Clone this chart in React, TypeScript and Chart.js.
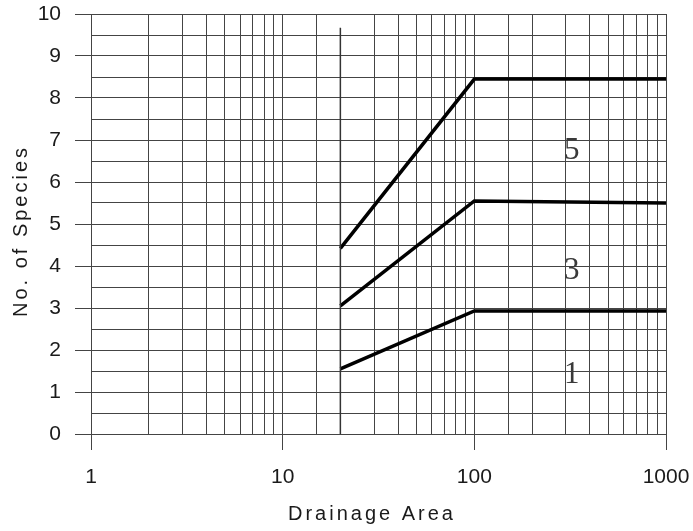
import { useEffect, useRef } from 'react';
import { Chart, registerables } from 'chart.js';

Chart.register(...registerables);

// ---- data ----
const areaPoints = [20, 100, 1000];
const species5 = [4.42, 8.45, 8.45];
const species3 = [3.05, 5.55, 5.5];
const species1 = [1.55, 2.93, 2.93];
const boundaryX = [20, 20];
const boundaryY = [0, 9.67];
const curveLabels = ['5', '3', '1'];
const curveLabelX = [322, 322, 322];
const curveLabelY = [6.75, 3.88, 1.42];
const xMajorTicks = [1, 10, 100, 1000];
const xTitle = 'Drainage Area';
const yTitle = 'No. of Species';

const GRID = '#444444';
const TEXT = '#1a1a1a';

const isMajorX = (v: number) => xMajorTicks.includes(v);
const isMajorY = (v: number) => Math.abs(v - Math.round(v)) < 1e-9;

const overlayPlugin = {
  id: 'overlayText',
  afterDraw(chart: any) {
    const ctx = chart.ctx as CanvasRenderingContext2D;
    const xs = chart.scales.x;
    const ys = chart.scales.y;
    ctx.save();
    // curve labels
    ctx.font = '31px "Liberation Serif"';
    ctx.fillStyle = '#3a3a3a';
    ctx.textAlign = 'center';
    ctx.textBaseline = 'middle';
    curveLabels.forEach((t, i) => {
      ctx.fillText(t, xs.getPixelForValue(curveLabelX[i]), ys.getPixelForValue(curveLabelY[i]));
    });
    // axis titles with letter spacing
    ctx.font = '20px "Liberation Sans"';
    (ctx as any).letterSpacing = '3px';
    ctx.fillStyle = TEXT;
    ctx.fillText(xTitle, 372, 514);
    ctx.translate(21, 231);
    ctx.rotate(-Math.PI / 2);
    ctx.fillText(yTitle, 0, 0);
    ctx.restore();
  },
};

export default function App() {
  const ref = useRef<HTMLCanvasElement>(null);
  useEffect(() => {
    if (!ref.current) return;
    const line = (vals: number[]) => areaPoints.map((x, i) => ({ x, y: vals[i] }));
    const chart = new Chart(ref.current, {
      type: 'line',
      data: {
        datasets: [
          {
            data: boundaryX.map((x, i) => ({ x, y: boundaryY[i] })),
            borderColor: '#333',
            borderWidth: 1.5,
            pointRadius: 0,
            tension: 0,
          },
          { data: line(species5), borderColor: '#000', borderWidth: 3.5, pointRadius: 0, tension: 0 },
          { data: line(species3), borderColor: '#000', borderWidth: 3.5, pointRadius: 0, tension: 0 },
          { data: line(species1), borderColor: '#000', borderWidth: 3.5, pointRadius: 0, tension: 0 },
        ],
      },
      options: {
        animation: false,
        responsive: false,
        devicePixelRatio: 1,
        layout: { padding: { top: 14, right: 27, left: 0, bottom: 0 } },
        plugins: { legend: { display: false }, tooltip: { enabled: false }, title: { display: false } },
        scales: {
          x: {
            type: 'logarithmic',
            min: 1,
            max: 1000,
            afterFit: (s: any) => {
              s.height = 97;
              s.paddingLeft = 0;
              s.paddingRight = 0;
            },
            border: { color: GRID, width: 1 },
            grid: {
              color: (c: any) => (c.tick && c.tick.value === 20 ? 'rgba(0,0,0,0)' : GRID),
              tickColor: (c: any) => (c.tick && isMajorX(c.tick.value) ? GRID : 'rgba(0,0,0,0)'),
              tickLength: 16,
              lineWidth: 1,
            },
            ticks: {
              autoSkip: false,
              maxRotation: 0,
              padding: 15,
              color: TEXT,
              font: { family: '"Liberation Sans"', size: 21 },
              callback: (v: any) => (isMajorX(Number(v)) ? String(v) : ''),
            },
          },
          y: {
            type: 'linear',
            min: 0,
            max: 10,
            afterFit: (s: any) => {
              s.width = 91;
              s.paddingTop = 0;
              s.paddingBottom = 0;
            },
            border: { color: GRID, width: 1 },
            grid: {
              color: GRID,
              tickColor: (c: any) => (c.tick && isMajorY(c.tick.value) ? GRID : 'rgba(0,0,0,0)'),
              tickLength: 16,
              lineWidth: 1,
            },
            ticks: {
              stepSize: 0.5,
              autoSkip: false,
              padding: 14,
              color: TEXT,
              font: { family: '"Liberation Sans"', size: 21 },
              callback: (v: any) => (isMajorY(Number(v)) ? String(Math.round(Number(v))) : ''),
            },
          },
        },
      },
      plugins: [overlayPlugin],
    });
    return () => chart.destroy();
  }, []);
  return (
    <div style={{ position: 'fixed', left: 0, top: 0, width: 693, height: 531, background: '#fff' }}>
      <canvas ref={ref} width={693} height={531} />
    </div>
  );
}
